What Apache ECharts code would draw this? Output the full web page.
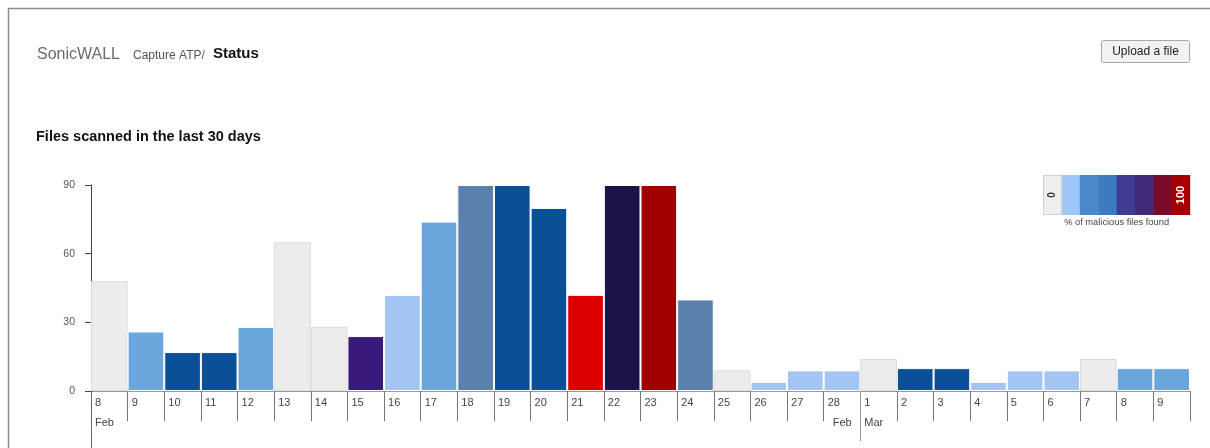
<!DOCTYPE html>
<html><head><meta charset="utf-8">
<script src="https://cdn.jsdelivr.net/npm/echarts@6/dist/echarts.min.js"></script>
<style>html,body{margin:0;padding:0;background:#fff}#c{width:1210px;height:448px}</style>
</head><body><div id="c"></div>
<script>
// ---- data ----
const days = ['8','9','10','11','12','13','14','15','16','17','18','19','20','21','22','23','24','25','26','27','28','1','2','3','4','5','6','7','8','9'];
const filesScanned = [48,26,17,17,28,65,28,24,42,74,90,90,80,42,90,90,40,9,4,9,9,14,10,10,4,9,9,14,10,10];
// malicious-share bucket (0 = none ... 8 = 100%)
const maliciousLevel = [0,2,4,4,2,0,0,5,1,2,3,4,4,7,6,8,3,0,1,1,1,0,4,4,1,1,1,0,2,2];
const monthMarks = [{index:0, label:'Feb'}, {index:21, label:'Mar', prev:'Feb'}];
const yTicks = [0,30,60,90];
const legendLabels = ['0','100'];

// ---- styles ----
const palette = ['#ececec','#a2c5f4','#6aa6dc','#5a80ad','#0b5096','#3a1a78','#1f1248','#dd0000','#a00000'];
const legendColors = ['#eeeeee','#9ec7f7','#4a88c8','#3a7cbf','#3d3c90','#3e2a78','#7b0b2a','#a30000'];

const chart = echarts.init(document.getElementById('c'));
const barData = filesScanned.map((v,i)=>({value:v,itemStyle:{color:palette[maliciousLevel[i]], borderColor: maliciousLevel[i]===0?'#dcdcdc':'#ffffff'}}));

function dayFmt(v){
  const i = Math.round(v);
  if (i<0 || i>=days.length) return '';
  const m = monthMarks.find(mm=>mm.index===i);
  if (m) return '{d|'+days[i]+'}\n{m|'+m.label+'}';
  const next = monthMarks.find(mm=>mm.index===i+1 && mm.prev);
  if (next) return '{d|'+days[i]+'}\n{fr|'+next.prev+'}';
  return '{d|'+days[i]+'}';
}

const legendX = 1043, legendY = 175, sw = 18.4, sh = 40;
const legendEls = legendColors.map((c,i)=>({type:'rect',shape:{x:legendX+i*sw,y:legendY,width:(i<7?sw+0.5:sw),height:sh},style:{fill:c},silent:true}));
legendEls.push({type:'rect',shape:{x:legendX+0.5,y:legendY+0.5,width:sw,height:sh-1},style:{fill:'none',stroke:'#d0d0d0',lineWidth:1}});
legendEls.push({type:'text',x:legendX+sw/2,y:legendY+sh/2,rotation:Math.PI/2,style:{text:legendLabels[0],fill:'#333',font:'bold 10px Arial, "Liberation Sans"',align:'center',verticalAlign:'middle'}});
legendEls.push({type:'text',x:legendX+7.5*sw,y:legendY+sh/2,rotation:Math.PI/2,style:{text:legendLabels[1],fill:'#fff',font:'bold 11px Arial, "Liberation Sans"',align:'center',verticalAlign:'middle'}});
legendEls.push({type:'text',x:legendX+sw*4,y:legendY+sh+7,style:{text:'% of malicious files found',fill:'#444',font:'9.3px Arial, "Liberation Sans"',align:'center',verticalAlign:'middle'}});

chart.setOption({
  animation:false,
  textStyle:{fontFamily:'Arial, "Liberation Sans", sans-serif'},
  grid:{left:91,right:20,top:185,bottom:57,containLabel:false},
  xAxis:[
    {type:'category',data:days,boundaryGap:true,axisLine:{lineStyle:{color:'#999'}},axisTick:{show:false},axisLabel:{show:false},splitLine:{show:false}},
    {type:'value',min:0,max:30,interval:1,position:'bottom',axisLine:{show:false},splitLine:{show:false},
      axisTick:{show:true,length:30,lineStyle:{color:'#777'}},
      axisLabel:{show:true,align:'left',margin:4,formatter:dayFmt,showMaxLabel:true,showMinLabel:true,hideOverlap:false,
        rich:{d:{fontSize:11,color:'#444',lineHeight:16,padding:[0,0,0,4]},
              m:{fontSize:11,color:'#444',lineHeight:24,padding:[0,0,0,4]},
              fr:{fontSize:11,color:'#444',lineHeight:24,width:28,align:'right'}}}},
    {type:'value',min:0,max:30,position:'bottom',axisLine:{show:false},splitLine:{show:false},axisLabel:{show:false},
      axisTick:{show:true,length:58,customValues:[0],lineStyle:{color:'#666'}}},
    {type:'value',min:0,max:30,position:'bottom',axisLine:{show:false},splitLine:{show:false},axisLabel:{show:false},
      axisTick:{show:true,length:50,customValues:[21],lineStyle:{color:'#999'}}}
  ],
  yAxis:{type:'value',min:0,max:90,interval:30,axisLine:{show:true,lineStyle:{color:'#444'}},
    axisTick:{show:true,length:6,lineStyle:{color:'#444'}},splitLine:{show:false},
    axisLabel:{fontSize:10.5,color:'#555',margin:16,customValues:yTicks}},
  series:[{type:'bar',xAxisIndex:0,data:barData,barCategoryGap:'0%',itemStyle:{borderWidth:1}}],
  graphic:[
    {type:'polyline',shape:{points:[[8.5,448],[8.5,8.5],[1210,8.5]]},style:{fill:'none',stroke:'#8c8c8c',lineWidth:1.5},silent:true},
    {type:'text',x:37,y:55,style:{text:'SonicWALL',fill:'#6a6a6a',font:'16px Arial, "Liberation Sans"',verticalAlign:'middle'}},
    {type:'text',x:133,y:56,style:{text:'Capture ATP/',fill:'#555',font:'12px Arial, "Liberation Sans"',verticalAlign:'middle'}},
    {type:'text',x:213,y:54,style:{text:'Status',fill:'#111',font:'bold 15px Arial, "Liberation Sans"',verticalAlign:'middle'}},
    {type:'text',x:36,y:137,style:{text:'Files scanned in the last 30 days',fill:'#111',font:'bold 14.5px Arial, "Liberation Sans"',verticalAlign:'middle'}},
    {type:'rect',shape:{x:1101.5,y:40.5,width:88,height:22,r:2},style:{fill:'#f2f2f2',stroke:'#a8a8a8',lineWidth:1}},
    {type:'text',x:1145.5,y:51.5,style:{text:'Upload a file',fill:'#222',font:'12px Arial, "Liberation Sans"',align:'center',verticalAlign:'middle'}},
    {type:'group',children:legendEls}
  ]
});
</script></body></html>
